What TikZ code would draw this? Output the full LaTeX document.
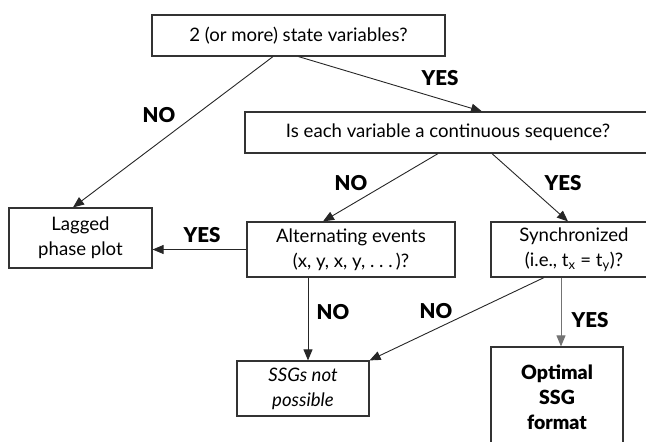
\documentclass[tikz,border=0pt]{standalone}
\usepackage{fontspec}
\setmainfont{Lato}
\newfontfamily\heavyfont{Lato Black}
\usepackage{tikz}
\usetikzlibrary{arrows.meta}

\begin{document}
\begin{tikzpicture}[x=1pt,y=-1pt,
  box/.style={draw=black!80,line width=1.2pt,inner sep=0pt,align=center,
    font=\fontsize{18.6}{25}\selectfont},
  lbl/.style={font=\fontsize{20.5}{22}\heavyfont},
  arr/.style={-{Triangle[length=11pt,width=9pt]},line width=0.9pt,black!85}]
\clip (0,0) rectangle (646,442);
% questions and outcomes
\node[box,minimum width=293,minimum height=41] (vars) at (298.5,35.5) {2 (or more) state variables?};
\node[box,minimum width=406,minimum height=41] (cont) at (448,132.5) {Is each variable a continuous sequence?};
\node[box,minimum width=143,minimum height=60] (lagged) at (80.5,238) {Lagged\\phase plot};
\node[box,minimum width=208,minimum height=55] (alt) at (351,249.5) {Alternating events\\(x, y, x, y, .\ .\ .\,)?};
\node[box,minimum width=166,minimum height=55] (sync) at (574,249.5) {Synchronized\\(i.e., t\textsubscript{x} = t\textsubscript{y})?};
\node[box,minimum width=132,minimum height=55,font=\fontsize{18.6}{25}\selectfont\itshape] (nossg) at (303,388.5) {SSGs not\\possible};
\node[box,minimum width=132,minimum height=100,font=\fontsize{19.5}{25}\heavyfont] (optimal) at (557,397) {Optimal\\SSG\\format};
% answers
\draw[arr] ([xshift=-25.5pt]vars.south) -- ([xshift=-7.5pt]lagged.north);
\draw[arr] (vars.south) -- ([xshift=34pt]cont.north);
\draw[arr] ([xshift=-10pt]cont.south) -- ([xshift=-28pt]alt.north);
\draw[arr] ([xshift=44pt]cont.south) -- ([xshift=-6pt]sync.north);
\draw[arr] (alt.west) -- (alt.west -| lagged.east);
\draw[arr] ([xshift=-43pt]alt.south) -- ([xshift=-43pt]alt.south |- nossg.north);
\draw[arr] ([xshift=-30pt]sync.south) -- (nossg.north east);
\draw[arr,black!55] ([xshift=-13pt]sync.south) -- ([xshift=-13pt]sync.south |- optimal.north);
\node[lbl] (no1) at (159,115) {NO};
\node[lbl] (yes1) at (440,78) {YES};
\node[lbl] (no2) at (351,183) {NO};
\node[lbl] (yes2) at (563,183) {YES};
\node[lbl] (yes3) at (202,235) {YES};
\node[lbl] (no3) at (333,312) {NO};
\node[lbl] (no4) at (436,311) {NO};
\node[lbl] (yes4) at (590,320) {YES};
\end{tikzpicture}
\end{document}
